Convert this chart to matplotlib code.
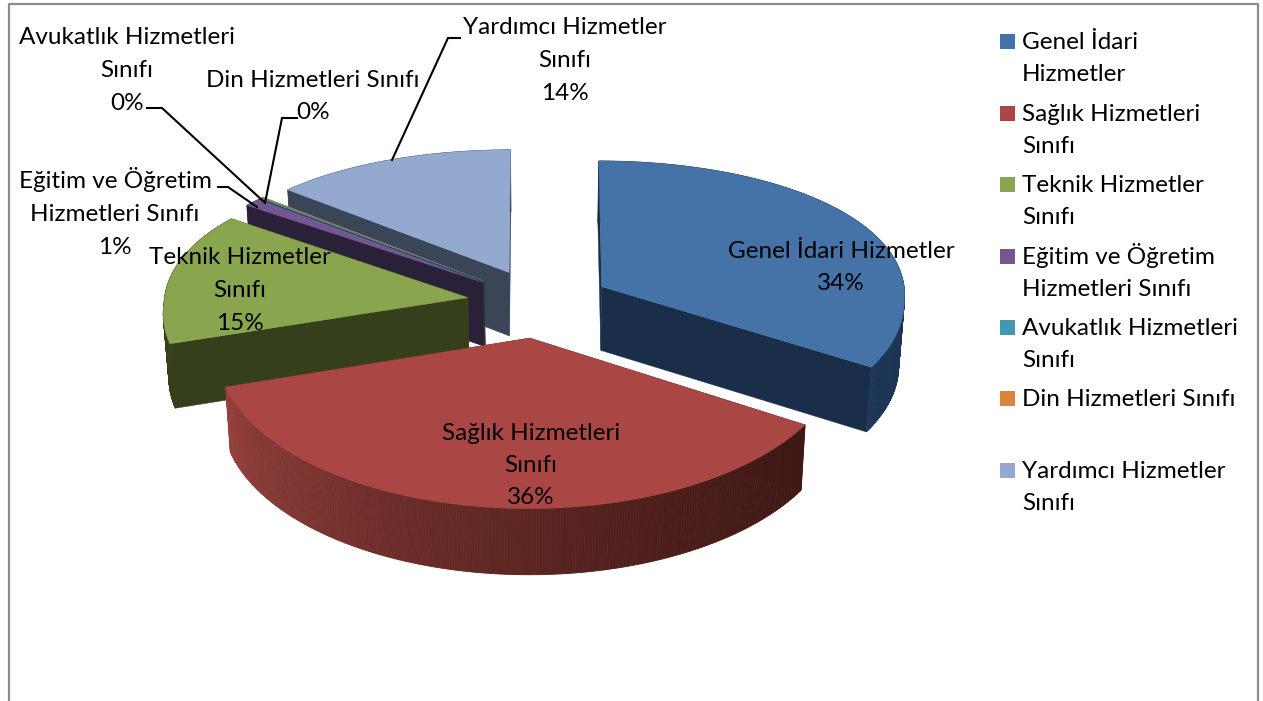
import numpy as np
import matplotlib
matplotlib.use("Agg")
import matplotlib.pyplot as plt
from matplotlib.colors import to_rgb
from matplotlib.patches import Polygon, Rectangle

plt.rcParams['font.family'] = ['Lato', 'DejaVu Sans']

# data
categories = ["Genel İdari Hizmetler", "Sağlık Hizmetleri Sınıfı", "Teknik Hizmetler Sınıfı",
              "Eğitim ve Öğretim Hizmetleri Sınıfı", "Avukatlık Hizmetleri Sınıfı",
              "Din Hizmetleri Sınıfı", "Yardımcı Hizmetler Sınıfı"]
shares = [34.0, 36.0, 15.0, 1.0, 0.1, 0.1, 13.8]
legend_rows = ["Genel İdari\nHizmetler", "Sağlık Hizmetleri\nSınıfı", "Teknik Hizmetler\nSınıfı",
               "Eğitim ve Öğretim\nHizmetleri Sınıfı", "Avukatlık Hizmetleri\nSınıfı",
               "Din Hizmetleri Sınıfı", "Yardımcı Hizmetler\nSınıfı"]
pie_labels = ["Genel İdari Hizmetler\n34%", "Sağlık Hizmetleri\nSınıfı\n36%", "Teknik Hizmetler\nSınıfı\n15%",
              "Eğitim ve Öğretim\nHizmetleri Sınıfı\n1%", "Avukatlık Hizmetleri\nSınıfı\n0%",
              "Din Hizmetleri Sınıfı\n0%", "Yardımcı Hizmetler\nSınıfı\n14%"]

# styles
top_colors = ["#4573A7", "#AA4643", "#89A54E", "#71588F", "#4198AF", "#DB843D", "#93A9CF"]
wall_colors = ["#1A2E4A", "#3F1815", "#363F1B", "#2A2038", "#1A3C46", "#5A3418", "#3A4558"]
wall_left = ["#1E3656", "#96413D", "#3A451C", "#2A2038", "#1A3C46", "#5A3418", "#3A4558"]
label_pos = [(841, 266), (531, 464), (240, 289), (115, 213), (127, 69), (313, 95), (565, 59)]
leaders = [None, None, None,
           [(218, 187), (228, 187), (257, 207)],
           [(147, 108), (162, 108), (264, 202)],
           [(297, 118), (282, 118), (265, 203)],
           [(460, 38), (448, 38), (392, 160)]]

CX, CY = 539, 303
R = 304
SQ = 0.48
EXPLODE = 72
HEIGHT = 64
FS = 17.5
PITCH = 32.5


def project(x, y, bottom=False):
    # perspective is a bit different behind and in front of the centre, and in x and y
    qx, qy = (0.05, 0.13) if y > 0 else (0.09, 0.10)
    sx = 1 / (1 + qx * y / R)
    sy = 1 / (1 + qy * y / R)
    px = CX + x * sx
    py = CY - y * SQ * sy
    if bottom:
        px = CX + (px - CX) * 0.985
        py = py + HEIGHT * sy ** 0.25
    return px, py


fig = plt.figure(figsize=(12.63, 7.01), dpi=100)
ax = fig.add_axes([0, 0, 1, 1])
ax.set_xlim(0, 1263)
ax.set_ylim(701, 0)
ax.axis("off")

# outer frame, no bottom edge
ax.plot([9, 9, 1258, 1258], [701, 3.5, 3.5, 701], color="#8C8C8C", lw=1.6, zorder=1)

edges = np.concatenate([[0], np.cumsum(shares)]) / np.sum(shares) * 360
draw_order = [6, 5, 4, 3, 2, 0, 1]

for n, i in enumerate(draw_order):
    z = 2 + n * 0.1
    a0, a1 = np.radians(edges[i]), np.radians(edges[i + 1])
    mid = (a0 + a1) / 2
    ox, oy = EXPLODE * np.sin(mid), EXPLODE * np.cos(mid)
    t = np.linspace(a0, a1, max(4, int(np.degrees(a1 - a0) * 2)))
    rim_x = ox + R * np.sin(t)
    rim_y = oy + R * np.cos(t)

    # cut walls
    for k in (0, -1):
        quad = [project(ox, oy), project(rim_x[k], rim_y[k]),
                project(rim_x[k], rim_y[k], True), project(ox, oy, True)]
        ax.add_patch(Polygon(quad, closed=True, fc=wall_colors[i], ec=wall_colors[i], lw=0.3, zorder=z))

    # rim wall, shaded from the right end to the left end
    c0, c1 = np.array(to_rgb(wall_colors[i])), np.array(to_rgb(wall_left[i]))
    for j in range(len(t) - 1):
        f = (j / max(1, len(t) - 2)) ** 1.4
        col = c0 + (c1 - c0) * f
        quad = [project(rim_x[j], rim_y[j]), project(rim_x[j + 1], rim_y[j + 1]),
                project(rim_x[j + 1], rim_y[j + 1], True), project(rim_x[j], rim_y[j], True)]
        ax.add_patch(Polygon(quad, closed=True, fc=col, ec=col, lw=0.6, zorder=z))

    # top face
    top = [project(ox, oy)] + [project(x, y) for x, y in zip(rim_x, rim_y)]
    ax.add_patch(Polygon(top, closed=True, fc=top_colors[i], ec=top_colors[i], lw=0.3, zorder=z))

# one text per line, the line pitch has to be exact
for i, text in enumerate(pie_labels):
    lines = text.split("\n")
    for j, line in enumerate(lines):
        y = label_pos[i][1] + (j - (len(lines) - 1) / 2) * PITCH + 8
        ax.text(label_pos[i][0], y, line, ha="center", va="baseline", fontsize=FS, color="black", zorder=6)
    if leaders[i]:
        xs, ys = zip(*leaders[i])
        ax.plot(xs, ys, color="black", lw=1.5, zorder=5, solid_joinstyle="miter")

# legend
legend_y = [41, 113, 184, 256, 327, 398, 470]
for i, row in enumerate(legend_rows):
    ax.add_patch(Rectangle((1000, legend_y[i] - 7), 15, 15, fc=top_colors[i], ec="none", zorder=3))
    for j, line in enumerate(row.split("\n")):
        ax.text(1022, legend_y[i] + 8 + j * 32, line, ha="left", va="baseline", fontsize=FS,
                color="black", zorder=6)

fig.savefig("out.png", dpi=100)
